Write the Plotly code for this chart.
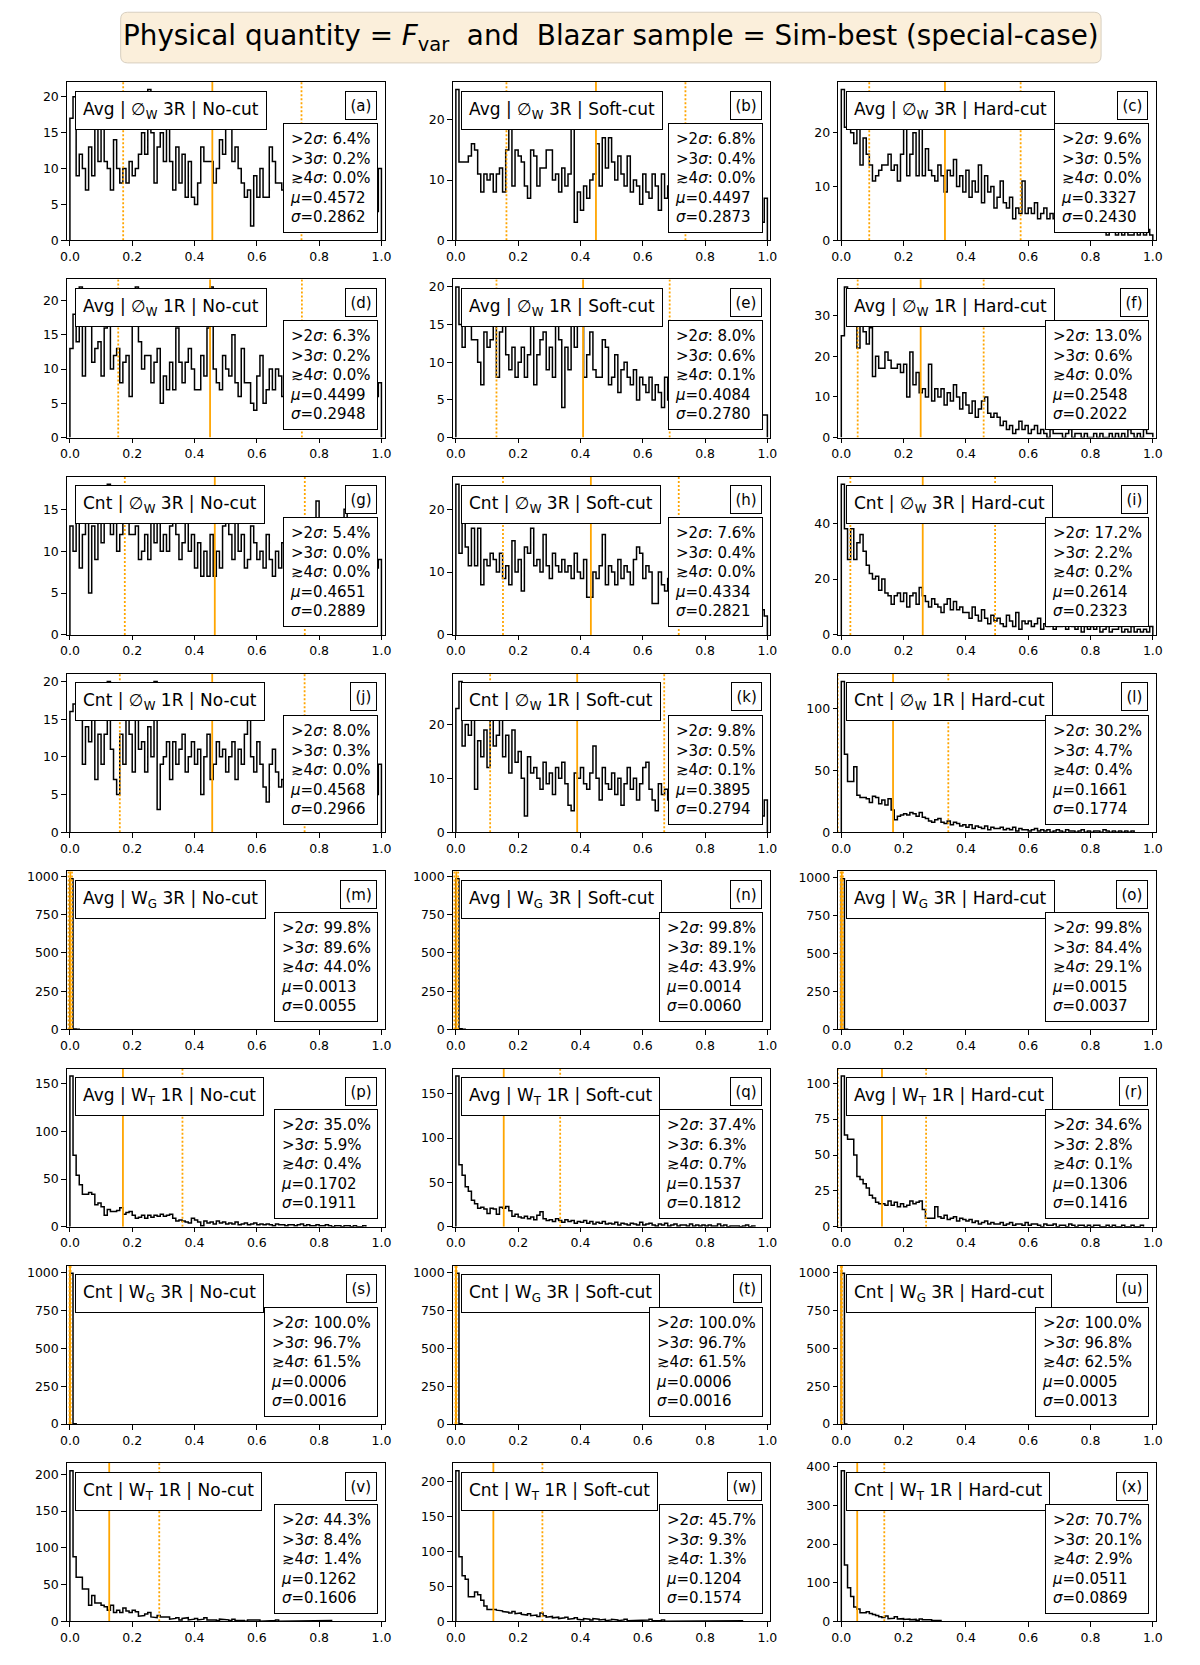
import plotly.graph_objects as go

W, H = 1200, 1665
FONT = "DejaVu Sans"
BIN_W = 0.01

# ---------------- data ----------------
row_labels = ["Avg | ∅<sub>W</sub> 3R", "Avg | ∅<sub>W</sub> 1R", "Cnt | ∅<sub>W</sub> 3R", "Cnt | ∅<sub>W</sub> 1R",
              "Avg | W<sub>G</sub> 3R", "Avg | W<sub>T</sub> 1R", "Cnt | W<sub>G</sub> 3R", "Cnt | W<sub>T</sub> 1R"]
cut_labels = ["No-cut", "Soft-cut", "Hard-cut"]
panel_tags = list("abcdefghijklmnopqrstuvwx")

gt2 = [6.4, 6.8, 9.6, 6.3, 8.0, 13.0, 5.4, 7.6, 17.2, 8.0, 9.8, 30.2,
       99.8, 99.8, 99.8, 35.0, 37.4, 34.6, 100.0, 100.0, 100.0, 44.3, 45.7, 70.7]
gt3 = [0.2, 0.4, 0.5, 0.2, 0.6, 0.6, 0.0, 0.4, 2.2, 0.3, 0.5, 4.7,
       89.6, 89.1, 84.4, 5.9, 6.3, 2.8, 96.7, 96.7, 96.8, 8.4, 9.3, 20.1]
ge4 = [0.0, 0.0, 0.0, 0.0, 0.1, 0.0, 0.0, 0.0, 0.2, 0.0, 0.1, 0.4,
       44.0, 43.9, 29.1, 0.4, 0.7, 0.1, 61.5, 61.5, 62.5, 1.4, 1.3, 2.9]
mu = [0.4572, 0.4497, 0.3327, 0.4499, 0.4084, 0.2548, 0.4651, 0.4334, 0.2614, 0.4568, 0.3895, 0.1661,
      0.0013, 0.0014, 0.0015, 0.1702, 0.1537, 0.1306, 0.0006, 0.0006, 0.0005, 0.1262, 0.1204, 0.0511]
sigma = [0.2862, 0.2873, 0.2430, 0.2948, 0.2780, 0.2022, 0.2889, 0.2821, 0.2323, 0.2966, 0.2794, 0.1774,
         0.0055, 0.0060, 0.0037, 0.1911, 0.1812, 0.1416, 0.0016, 0.0016, 0.0013, 0.1606, 0.1574, 0.0869]
y_dticks = [5, 10, 10, 5, 5, 10, 5, 10, 20, 5, 10, 50,
            250, 250, 250, 50, 50, 25, 250, 250, 250, 50, 50, 100]

# histogram counts per 0.01-wide bin starting at 0 (up to the last non-empty bin)
counts_a = [17, 20, 9, 12, 10, 7, 13, 9, 19, 11, 16, 11, 10, 7, 14, 10, 8, 10, 8, 11,
            9, 10, 12, 15, 12, 21, 15, 8, 13, 15, 11, 16, 11, 7, 13, 8, 12, 6, 11, 6,
            5, 8, 13, 11, 11, 11, 8, 10, 14, 12, 16, 17, 11, 13, 10, 8, 6, 7, 2, 9,
            6, 10, 6, 6, 13, 11, 8, 8, 7, 6, 5, 8, 10, 9, 6, 7, 8, 5, 7, 9,
            6, 9, 7, 8, 11, 7, 6, 5, 9, 4, 8, 6, 10, 7, 8, 5, 9, 6, 4, 10]
counts_b = [25, 13, 13, 13, 14, 16, 15, 11, 8, 11, 10, 11, 8, 11, 12, 8, 15, 20, 9, 15,
            14, 13, 9, 7, 15, 14, 9, 12, 12, 15, 15, 10, 11, 8, 12, 9, 11, 19, 3, 8,
            5, 9, 7, 10, 11, 16, 9, 17, 12, 17, 13, 10, 14, 11, 9, 14, 8, 10, 9, 6,
            11, 8, 7, 11, 9, 5, 11, 7, 9, 8, 6, 9, 8, 7, 10, 6, 8, 9, 7, 5,
            8, 6, 9, 7, 5, 8, 7, 6, 9, 5, 7, 6, 8, 5, 7, 6, 4, 8, 3, 7]
counts_c = [28, 21, 24, 20, 18, 22, 14, 19, 16, 14, 11, 12, 13, 14, 14, 16, 13, 14, 11, 16,
            21, 12, 16, 20, 12, 21, 12, 17, 13, 12, 11, 14, 12, 9, 13, 12, 15, 10, 12, 9,
            13, 8, 11, 9, 14, 7, 12, 9, 10, 6, 8, 11, 7, 6, 8, 4, 6, 5, 11, 5,
            6, 5, 7, 4, 5, 6, 4, 5, 4, 3, 4, 3, 5, 3, 4, 3, 2, 4, 3, 2,
            3, 2, 3, 2, 2, 1, 3, 2, 1, 2, 1, 2, 1, 1, 2, 1, 2, 1, 2, 1]
counts_d = [13, 18, 14, 22, 9, 19, 17, 11, 13, 14, 9, 16, 17, 10, 12, 13, 8, 11, 12, 6,
            17, 22, 14, 10, 12, 12, 8, 11, 13, 5, 9, 7, 11, 7, 16, 11, 8, 11, 13, 10,
            7, 7, 12, 9, 16, 22, 10, 8, 7, 12, 10, 9, 15, 8, 6, 13, 8, 8, 5, 4,
            9, 12, 5, 7, 10, 7, 10, 9, 6, 7, 9, 6, 10, 8, 7, 5, 9, 6, 8, 7,
            6, 8, 5, 9, 7, 6, 8, 5, 7, 6, 5, 8, 6, 7, 5, 6, 8, 4, 6, 8]
counts_e = [20, 15, 12, 15, 17, 13, 13, 10, 7, 14, 12, 13, 15, 8, 14, 15, 11, 9, 12, 8,
            10, 12, 8, 11, 15, 7, 11, 13, 14, 9, 12, 8, 15, 13, 4, 12, 9, 15, 12, 17,
            19, 8, 11, 14, 9, 8, 8, 13, 12, 7, 8, 11, 6, 9, 10, 8, 7, 9, 5, 8,
            7, 6, 8, 5, 7, 6, 4, 8, 5, 6, 5, 7, 4, 6, 5, 4, 6, 3, 5, 4,
            4, 3, 5, 4, 3, 4, 3, 2, 4, 3, 3, 4, 2, 3, 4, 2, 3, 2, 3, 3]
counts_f = [25, 37, 30, 28, 31, 22, 28, 26, 23, 27, 15, 20, 17, 17, 21, 19, 17, 17, 18, 16,
            18, 10, 21, 13, 16, 11, 12, 10, 18, 9, 12, 10, 12, 8, 11, 9, 13, 10, 7, 11,
            8, 6, 9, 5, 7, 9, 10, 6, 5, 6, 5, 3, 4, 2, 3, 1, 2, 4, 2, 3,
            1, 2, 3, 1, 2, 1, 0, 2, 1, 1, 1, 0, 1, 2, 0, 1, 1, 0, 1, 0,
            0, 1, 0, 1, 0, 0, 1, 0, 1, 0, 1, 0, 2, 1, 0, 1, 0, 2, 1, 1]
counts_g = [13, 10, 14, 8, 12, 14, 5, 13, 9, 16, 11, 14, 18, 12, 15, 10, 12, 16, 15, 12,
            12, 13, 9, 10, 12, 9, 14, 11, 15, 10, 12, 10, 13, 16, 12, 9, 11, 14, 10, 12,
            8, 11, 7, 10, 7, 12, 7, 10, 8, 13, 16, 12, 9, 14, 10, 12, 8, 9, 13, 11,
            9, 10, 8, 12, 9, 7, 10, 8, 11, 9, 8, 10, 9, 7, 11, 8, 9, 10, 7, 16,
            11, 9, 8, 10, 7, 9, 8, 11, 15, 8, 9, 10, 7, 9, 8, 10, 7, 9, 8, 9]
counts_h = [24, 13, 18, 14, 11, 17, 11, 17, 8, 12, 11, 13, 12, 10, 13, 9, 11, 8, 15, 10,
            12, 7, 14, 13, 17, 11, 12, 10, 16, 11, 9, 13, 11, 10, 12, 10, 11, 9, 13, 10,
            9, 12, 6, 6, 10, 9, 11, 16, 8, 11, 10, 8, 12, 9, 11, 10, 8, 12, 14, 13,
            9, 11, 10, 5, 5, 10, 8, 7, 9, 6, 8, 7, 9, 6, 7, 8, 5, 7, 6, 8,
            6, 7, 5, 8, 6, 5, 7, 4, 6, 5, 5, 6, 4, 5, 6, 4, 5, 3, 4, 3]
counts_i = [54, 38, 27, 38, 27, 33, 36, 30, 25, 22, 20, 21, 16, 20, 15, 14, 11, 14, 15, 12,
            15, 10, 14, 15, 11, 17, 14, 12, 10, 13, 11, 10, 8, 11, 13, 9, 12, 9, 10, 8,
            8, 6, 10, 7, 5, 9, 6, 4, 7, 5, 6, 4, 3, 7, 5, 3, 8, 2, 5, 4,
            5, 3, 4, 6, 2, 4, 3, 5, 2, 3, 3, 4, 2, 5, 3, 2, 4, 1, 3, 2,
            3, 2, 4, 1, 2, 3, 1, 2, 2, 3, 1, 2, 1, 3, 1, 2, 1, 2, 1, 3]
counts_j = [16, 17, 15, 17, 9, 14, 12, 15, 7, 13, 9, 13, 20, 11, 7, 5, 13, 9, 18, 13,
            8, 15, 11, 12, 8, 14, 10, 20, 3, 9, 10, 12, 7, 12, 9, 11, 13, 8, 10, 12,
            9, 11, 5, 10, 13, 7, 9, 12, 10, 11, 8, 10, 12, 7, 11, 9, 13, 15, 10, 8,
            12, 9, 6, 4, 9, 11, 8, 6, 7, 9, 10, 7, 9, 6, 8, 7, 10, 5, 8, 6,
            7, 9, 6, 8, 10, 7, 5, 8, 6, 9, 8, 6, 9, 7, 5, 8, 6, 7, 5, 9]
counts_k = [23, 28, 16, 20, 18, 22, 8, 17, 14, 19, 12, 21, 16, 18, 21, 14, 18, 11, 19, 13,
            15, 10, 3, 14, 11, 12, 10, 8, 13, 9, 11, 7, 12, 10, 13, 9, 5, 4, 11, 10,
            12, 9, 8, 11, 16, 10, 6, 12, 9, 8, 11, 7, 10, 5, 9, 12, 8, 10, 6, 9,
            12, 13, 8, 6, 4, 9, 7, 8, 6, 7, 8, 6, 7, 5, 8, 6, 7, 5, 6, 7,
            5, 6, 7, 4, 6, 5, 6, 4, 5, 6, 4, 5, 6, 4, 5, 3, 5, 4, 3, 6]
counts_l = [122, 63, 41, 41, 53, 30, 28, 28, 27, 24, 29, 28, 23, 26, 22, 27, 18, 10, 13, 14,
            15, 14, 16, 15, 13, 16, 12, 11, 9, 8, 10, 11, 8, 7, 9, 6, 8, 7, 5, 6,
            4, 6, 3, 5, 4, 3, 5, 2, 4, 3, 3, 4, 2, 3, 2, 4, 1, 3, 2, 2,
            1, 2, 3, 1, 2, 1, 2, 0, 1, 2, 1, 0, 2, 1, 1, 0, 1, 2, 0, 1,
            0, 1, 1, 0, 2, 1, 0, 1, 0, 1, 0, 1, 0, 1]
counts_m = [985, 3, 1]
counts_n = [984, 4, 1]
counts_o = [990, 2]
counts_p = [158, 75, 54, 44, 34, 34, 36, 34, 23, 25, 21, 12, 18, 16, 16, 17, 20, 13, 15, 16,
            12, 9, 10, 12, 9, 12, 10, 12, 11, 13, 11, 12, 13, 9, 6, 7, 6, 5, 4, 9,
            7, 5, 1, 6, 4, 5, 3, 6, 4, 5, 3, 4, 3, 5, 2, 3, 4, 2, 3, 4,
            2, 3, 2, 3, 2, 1, 3, 2, 2, 1, 2, 2, 1, 2, 3, 1, 2, 1, 1, 2,
            1, 1, 2, 1, 0, 1, 1, 0, 1, 1, 0, 1, 0, 0, 1]
counts_q = [170, 70, 58, 45, 40, 30, 26, 21, 22, 20, 15, 21, 20, 14, 22, 21, 23, 18, 12, 14,
            11, 10, 12, 9, 11, 8, 13, 17, 9, 7, 8, 6, 9, 7, 5, 8, 6, 7, 4, 6,
            5, 7, 4, 6, 3, 5, 4, 6, 3, 4, 3, 5, 2, 4, 3, 2, 4, 3, 2, 5,
            2, 3, 4, 2, 1, 3, 2, 4, 1, 2, 3, 1, 2, 2, 1, 3, 1, 2, 1, 2,
            1, 2, 1, 1, 3, 1, 2, 0, 1, 1, 1, 0, 1, 2, 0, 1]
counts_r = [105, 64, 61, 61, 50, 35, 33, 30, 27, 22, 20, 17, 16, 16, 15, 18, 15, 17, 14, 16,
            14, 15, 18, 16, 17, 18, 12, 6, 6, 6, 14, 7, 6, 8, 5, 6, 7, 4, 6, 5,
            4, 5, 3, 4, 2, 3, 4, 2, 3, 2, 2, 3, 1, 2, 3, 1, 2, 2, 1, 3,
            1, 2, 2, 1, 0, 2, 1, 1, 2, 0, 1, 1, 0, 2, 1, 0, 1, 1, 0, 1,
            0, 1, 1, 0, 0, 1, 0, 1, 0, 0, 1, 0, 0, 1, 0, 0, 1]
counts_s = [994, 2]
counts_t = [994, 2]
counts_u = [995, 1]
counts_v = [205, 88, 60, 60, 44, 44, 22, 35, 25, 25, 22, 20, 15, 22, 12, 15, 12, 18, 14, 12,
            15, 13, 7, 8, 10, 12, 6, 5, 8, 6, 5, 6, 3, 4, 5, 2, 4, 5, 2, 3,
            4, 2, 3, 5, 2, 3, 2, 1, 3, 2, 2, 1, 3, 1, 2, 1, 0, 2, 1, 1,
            2, 0, 1, 1, 0, 1, 2, 0, 1, 0, 0, 1, 0, 0, 1, 0, 0, 0, 1, 0,
            0, 0, 0, 1]
counts_w = [215, 92, 65, 60, 35, 35, 42, 38, 30, 22, 17, 18, 17, 16, 15, 14, 13, 12, 14, 11,
            12, 10, 9, 11, 8, 9, 7, 12, 8, 6, 7, 5, 6, 4, 5, 6, 3, 4, 5, 3,
            2, 4, 3, 2, 4, 3, 2, 3, 1, 2, 3, 2, 1, 2, 3, 1, 2, 1, 2, 1,
            1, 2, 3, 1, 0, 1, 2, 0, 1, 1, 0, 1, 0, 1, 0, 0, 1, 0, 0, 1,
            0, 0, 1, 0, 0, 0, 0, 0, 0, 0, 0, 1]
counts_x = [390, 146, 87, 64, 37, 32, 22, 22, 25, 20, 18, 15, 12, 10, 14, 7, 8, 12, 6, 7,
            5, 6, 4, 5, 3, 6, 4, 3, 4, 2, 3, 2]

hist_counts = [counts_a, counts_b, counts_c, counts_d, counts_e, counts_f, counts_g, counts_h,
               counts_i, counts_j, counts_k, counts_l, counts_m, counts_n, counts_o, counts_p,
               counts_q, counts_r, counts_s, counts_t, counts_u, counts_v, counts_w, counts_x]

# ---------------- layout geometry (pixels) ----------------
col_left = [60.5, 451.0, 841.0]
ax_w = 321.5
row_top0, row_pitch, ax_h = 78.6, 198.6, 159.3

fig = go.Figure()
annotations = []
shapes = []
layout_axes = {}

ORANGE = "#FFA500"

for k in range(24):
    r, c = divmod(k, 3)
    n = "" if k == 0 else str(k + 1)
    xname, yname = "x" + n, "y" + n
    left = col_left[c]
    top = row_top0 + r * row_pitch
    counts = hist_counts[k]
    ymax = 1.05 * max(counts)

    # step outline of the histogram
    xs, ys = [0.0], [0.0]
    for i, cnt in enumerate(counts):
        xs += [i * BIN_W, (i + 1) * BIN_W]
        ys += [cnt, cnt]
    xs.append(len(counts) * BIN_W)
    ys.append(0.0)
    fig.add_trace(go.Scatter(x=xs, y=ys, mode="lines", line=dict(color="black", width=1.5),
                             xaxis=xname, yaxis=yname, hoverinfo="skip", showlegend=False))
    # mean and +-1 sigma lines
    m, s = mu[k], sigma[k]
    for xv, dash in [(m - s, "2px,2px"), (m + s, "2px,2px"), (m, "solid")]:
        fig.add_trace(go.Scatter(x=[xv, xv], y=[0, ymax], mode="lines",
                                 line=dict(color=ORANGE, width=1.8, dash=dash),
                                 xaxis=xname, yaxis=yname, hoverinfo="skip", showlegend=False))

    axis_common = dict(showline=True, mirror=True, linecolor="black", linewidth=1,
                       ticks="outside", ticklen=4.5, tickwidth=1, tickcolor="black",
                       showgrid=False, zeroline=False,
                       tickfont=dict(family=FONT, size=12.5, color="black"))
    layout_axes["xaxis" + n] = dict(domain=[left / W, (left + ax_w) / W], range=[-0.01, 1.01],
                                    tick0=0, dtick=0.2, tickformat=".1f", anchor=yname, **axis_common)
    layout_axes["yaxis" + n] = dict(domain=[1 - (top + ax_h) / H, 1 - top / H], range=[0, ymax],
                                    tick0=0, dtick=y_dticks[k], anchor=xname, **axis_common)

    xd, yd = xname + " domain", yname + " domain"
    # method label (upper left)
    annotations.append(dict(xref=xd, yref=yd, x=0, y=1, xanchor="left", yanchor="top",
                            xshift=8, yshift=-8.5, showarrow=False,
                            text=f"{row_labels[r]} | {cut_labels[c]}",
                            font=dict(family=FONT, size=17, color="black"),
                            bgcolor="white", bordercolor="black", borderwidth=1, borderpad=7))
    # panel tag (upper right)
    annotations.append(dict(xref=xd, yref=yd, x=1, y=1, xanchor="right", yanchor="top",
                            xshift=-8, yshift=-8.5, showarrow=False,
                            text=f"({panel_tags[k]})",
                            font=dict(family=FONT, size=15, color="black"),
                            bgcolor="white", bordercolor="black", borderwidth=1, borderpad=4.5))
    # statistics (lower right)
    stats = (f"&gt;2<i>σ</i>: {gt2[k]:.1f}%<br>&gt;3<i>σ</i>: {gt3[k]:.1f}%<br>"
             f"≳4<i>σ</i>: {ge4[k]:.1f}%<br><i>μ</i>={m:.4f}<br><i>σ</i>={s:.4f}")
    annotations.append(dict(xref=xd, yref=yd, x=1, y=0, xanchor="right", yanchor="bottom",
                            xshift=-7, yshift=7.5, showarrow=False, align="left",
                            text=stats, font=dict(family=FONT, size=15, color="black"),
                            bgcolor="white", bordercolor="black", borderwidth=1, borderpad=6))

# title box (rounded rectangle) and title text
bx0, bx1, by0, by1, rad = 115.0, 1107.0, 8.3, 59.3, 7.0
def px(xp):
    return xp / W
def py(yp):
    return 1 - yp / H
path = (f"M {px(bx0 + rad)},{py(by0)} L {px(bx1 - rad)},{py(by0)} "
        f"Q {px(bx1)},{py(by0)} {px(bx1)},{py(by0 + rad)} L {px(bx1)},{py(by1 - rad)} "
        f"Q {px(bx1)},{py(by1)} {px(bx1 - rad)},{py(by1)} L {px(bx0 + rad)},{py(by1)} "
        f"Q {px(bx0)},{py(by1)} {px(bx0)},{py(by1 - rad)} L {px(bx0)},{py(by0 + rad)} "
        f"Q {px(bx0)},{py(by0)} {px(bx0 + rad)},{py(by0)} Z")
shapes.append(dict(type="path", xref="paper", yref="paper", path=path,
                   fillcolor="#FBEFDB", line=dict(color="#D8CFC0", width=1), layer="above"))
annotations.append(dict(xref="paper", yref="paper", x=px((bx0 + bx1) / 2), y=py((by0 + by1) / 2),
                        xanchor="center", yanchor="middle", showarrow=False,
                        text="Physical quantity = <i>F</i><sub>var</sub>\u00a0 and \u00a0Blazar sample = Sim-best (special-case)",
                        font=dict(family=FONT, size=27.8, color="black")))

fig.update_layout(width=W, height=H, margin=dict(l=0, r=0, t=0, b=0),
                  paper_bgcolor="white", plot_bgcolor="white", showlegend=False,
                  annotations=annotations, shapes=shapes, **layout_axes)

fig.write_html("out.html", config={"displayModeBar": False},
               post_script="document.body.style.margin='0px';document.body.style.padding='0px';"
                           "document.documentElement.style.overflow='hidden';")
